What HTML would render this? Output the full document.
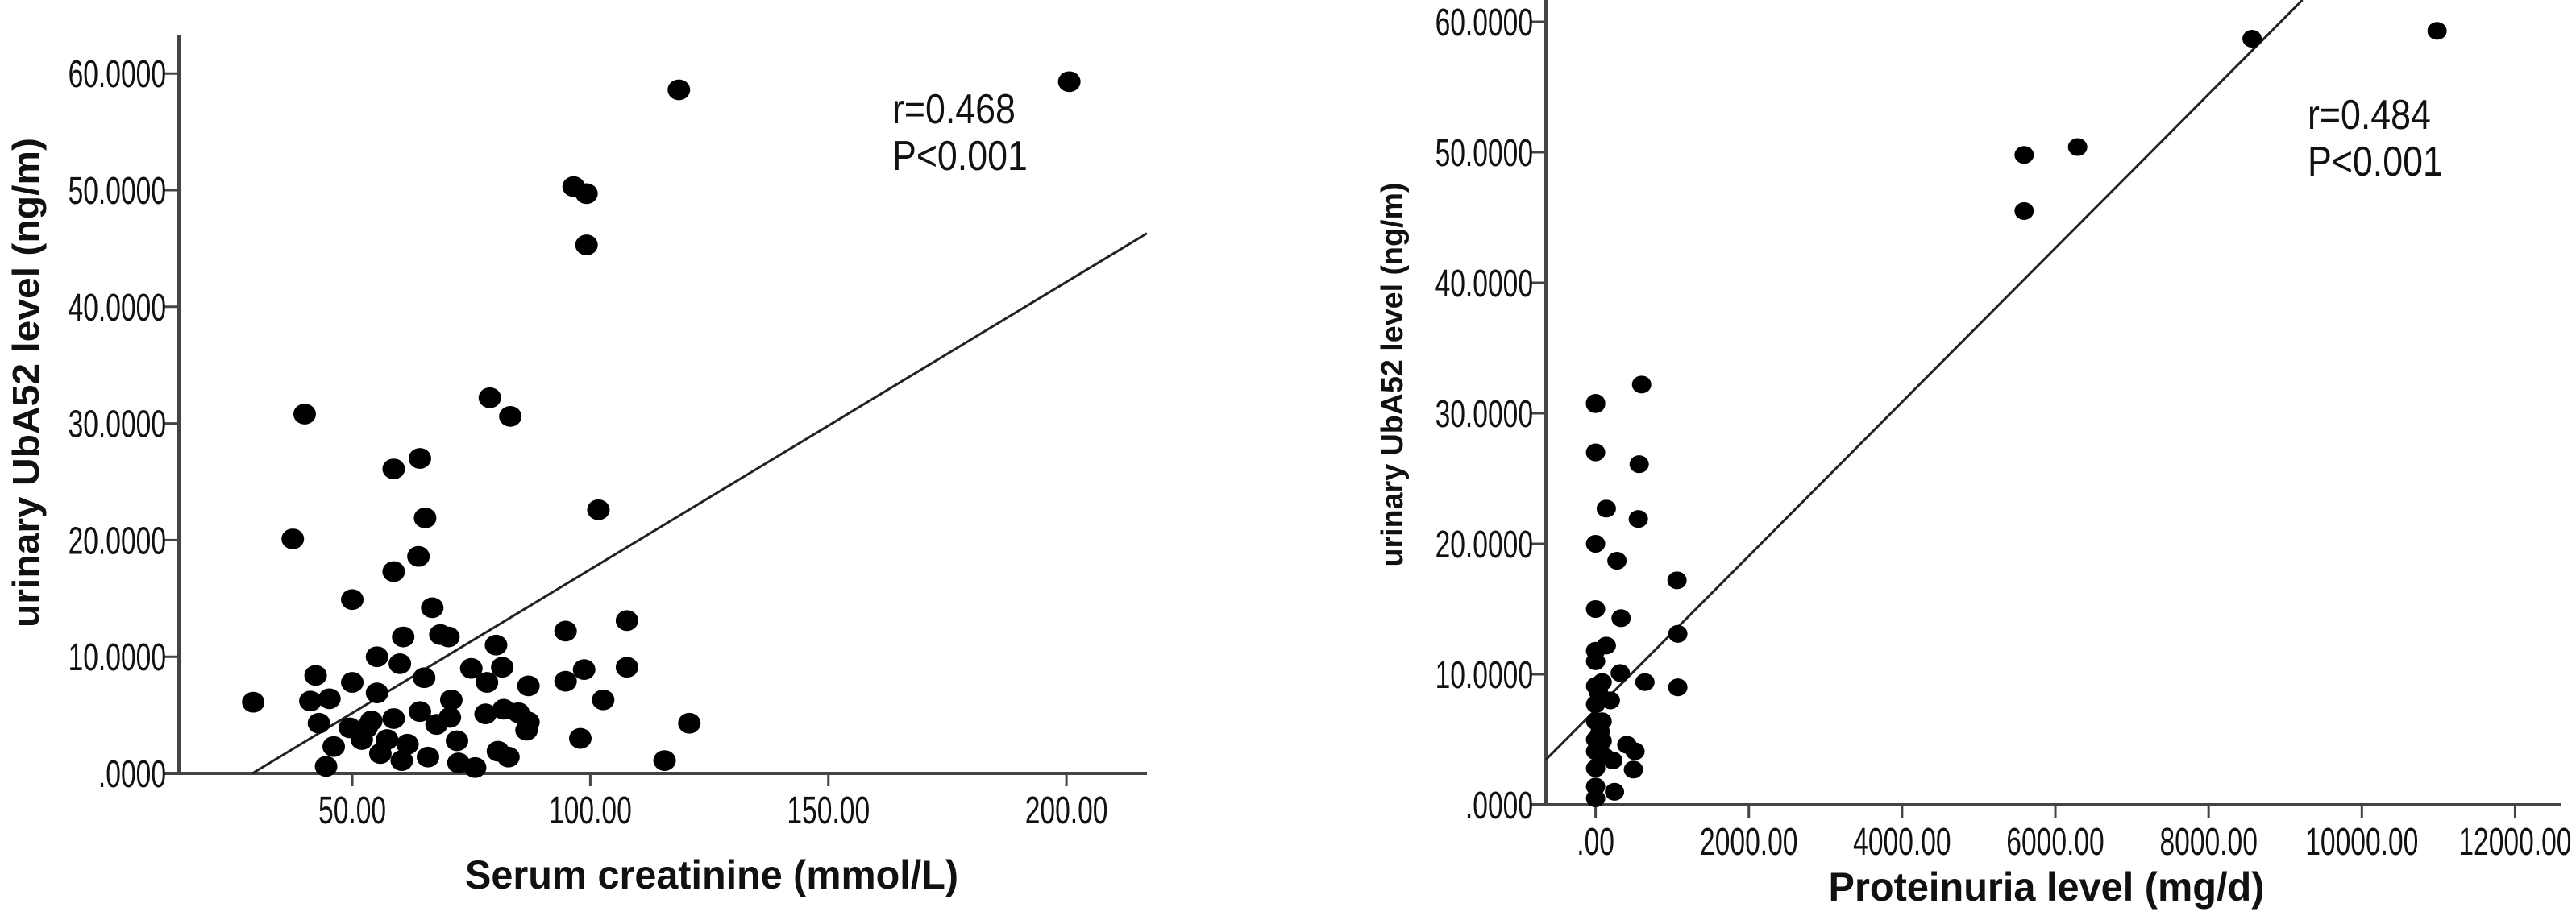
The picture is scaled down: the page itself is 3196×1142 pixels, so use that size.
<!DOCTYPE html>
<html><head><meta charset="utf-8"><style>
html,body{margin:0;padding:0;background:#fff;}
svg{display:block;}
text{font-family:"Liberation Sans",sans-serif;fill:#111;}
.b{font-weight:bold;}
</style></head><body>
<svg id="fig" width="3196" height="1142" viewBox="0 0 3196 1142" xmlns="http://www.w3.org/2000/svg">
<g id="left"></g>
<g id="right"></g>
</svg>
<script>
// Left chart data
const leftX = [29.2,40.0,37.5,42.3,41.2,43.0,45.2,46.1,44.5,50,50,49.5,53,55.2,55.2,58.7,58.7,60,60.7,58.7,55.9,57.3,60.4,61.6,63.9,64.2,65.3,66.8,65.1,64.2,65.9,68.5,70.2,67.7,70.8,72,72.3,75.8,75,78.9,83.2,78.3,78,80.2,81.5,80.6,82.8,81.8,84.9,87,86.6,94.8,94.8,96.5,99.2,99.2,98.7,97.9,101.7,102.7,107.7,107.7,115.6,120.8,118.6,200.6,70.5,87,52,54];
const leftY = [6.1,30.8,20.1,8.4,6.2,4.3,6.4,2.3,0.6,14.9,7.8,3.9,3.9,6.9,10.0,17.3,26.1,9.4,11.7,4.7,1.7,2.9,1.1,2.5,18.6,27.0,21.9,14.2,8.2,5.3,1.4,11.9,11.7,4.2,6.3,2.8,0.9,0.5,9.0,32.2,30.6,7.8,5.1,11.0,9.1,1.9,1.4,5.5,5.2,7.5,3.7,12.2,7.9,50.3,49.7,45.3,8.9,3.0,22.6,6.3,13.1,9.1,1.1,4.3,58.6,59.3,4.8,4.4,2.9,4.5];
const leftXTicks = [50,100,150,200];
const leftXTickLabels = ["50.00","100.00","150.00","200.00"];
const leftYTicks = [0,10,20,30,40,50,60];
const leftYTickLabels = [".0000","10.0000","20.0000","30.0000","40.0000","50.0000","60.0000"];
const leftFit = [0.2464,-7.15];
// Right chart data
const rightX = [8567,10982,5593,6291,5593,601,0,0,0,569,140,558,0,279,1063,0,333,1073,140,0,0,0,86,322,644,1073,193,0,0,0,86,408,515,225,494,247,0,0,0,0,86,118,40,60];
const rightY = [58.7,59.3,49.8,50.4,45.5,32.2,30.8,30.7,27.0,26.1,22.7,21.9,20.0,18.7,17.2,15.0,14.3,13.1,12.2,11.8,11.0,9.1,9.4,10.1,9.4,9.0,8.0,7.7,6.4,5.0,4.9,4.6,4.1,3.4,2.7,1.0,4.1,2.8,1.4,0.5,6.4,3.7,8.6,5.6];
const rightXTicks = [0,2000,4000,6000,8000,10000,12000];
const rightXTickLabels = [".00","2000.00","4000.00","6000.00","8000.00","10000.00","12000.00"];
const rightYTicks = [0,10,20,30,40,50,60];
const rightYTickLabels = [".0000","10.0000","20.0000","30.0000","40.0000","50.0000","60.0000"];
const rightFit = [0.005896,7.28];

const NS="http://www.w3.org/2000/svg";
function mk(parent,tag,attrs,txt){const e=document.createElementNS(NS,tag);for(const k in attrs)e.setAttribute(k,attrs[k]);if(txt!=null)e.textContent=txt;parent.appendChild(e);return e;}

function draw(g,cfg){
  const sx=v=>cfg.x0+v*cfg.kx, sy=v=>cfg.y0-v*cfg.ky;
  let a=mk(g,'line',{x1:cfg.ax,y1:cfg.top,x2:cfg.ax,y2:cfg.y0,stroke:'#444','stroke-width':4});
  
  
  a=mk(g,'line',{x1:cfg.ax-20,y1:cfg.y0,x2:cfg.right,y2:cfg.y0,stroke:'#444','stroke-width':4});
  
  
  cfg.yt.forEach((v,i)=>{
    const l=mk(g,'line',{x1:cfg.ax-20,y1:sy(v),x2:cfg.ax,y2:sy(v),stroke:'#444','stroke-width':3});
    
    
    const t=mk(g,'text',{x:0,y:0,'font-size':48,'text-anchor':'end',transform:`translate(${cfg.ax-16},${sy(v)+17}) scale(0.7,1)`},cfg.ytl[i]);
    
    
  });
  cfg.xt.forEach((v,i)=>{
    const l=mk(g,'line',{x1:sx(v),y1:cfg.y0,x2:sx(v),y2:cfg.y0+16,stroke:'#444','stroke-width':3});
    
    
    const t=mk(g,'text',{x:0,y:0,'font-size':48,'text-anchor':'middle',transform:`translate(${sx(v)},${cfg.y0+62}) scale(0.7,1)`},cfg.xtl[i]);
    
    
  });
  const xa=(cfg.ax-cfg.x0)/cfg.kx, xb=(cfg.right-cfg.x0)/cfg.kx;
  let x1=xa,y1=cfg.fit[0]*x1+cfg.fit[1];
  if(y1<0){x1=-cfg.fit[1]/cfg.fit[0];y1=0;}
  let x2=xb,y2=cfg.fit[0]*x2+cfg.fit[1];
  const ymax=(cfg.y0-cfg.top)/cfg.ky;
  if(y2>ymax){y2=ymax;x2=(ymax-cfg.fit[1])/cfg.fit[0];}
  const fl=mk(g,'line',{x1:sx(x1),y1:sy(y1),x2:sx(x2),y2:sy(y2),stroke:'#222','stroke-width':3});
  
  
  cfg.xs.forEach((v,i)=>{
    const c=mk(g,'ellipse',{cx:sx(v),cy:sy(cfg.ys[i]),rx:cfg.r,ry:cfg.r*0.92,fill:'#000'});
    
    
  });
  let t=mk(g,'text',{x:0,y:0,'font-size':52,transform:`translate(${cfg.rx},${cfg.ry}) scale(0.86,1)`},cfg.rtxt);
  
  
  t=mk(g,'text',{x:0,y:0,'font-size':52,transform:`translate(${cfg.rx},${cfg.ry+58}) scale(0.86,1)`},'P<0.001');
  
  
  t=mk(g,'text',{x:cfg.xlx,y:cfg.xly,'font-size':50,'text-anchor':'middle','class':'b',textLength:cfg.xlw,lengthAdjust:'spacingAndGlyphs'},cfg.xl);
  
  
  t=mk(g,'text',{x:0,y:0,'font-size':cfg.ylf,'text-anchor':'middle','class':'b',textLength:cfg.ylw,lengthAdjust:'spacingAndGlyphs',transform:`translate(${cfg.ylx},${cfg.yly}) rotate(-90)`},'urinary UbA52 level (ng/m)');
  
  
}
draw(document.getElementById('left'),{x0:141.7,kx:5.907,y0:960,ky:14.48,ax:222,top:44,right:1423,
  xs:leftX,ys:leftY,xt:leftXTicks,xtl:leftXTickLabels,yt:leftYTicks,ytl:leftYTickLabels,fit:leftFit,r:14,
  rx:1107,ry:153,rtxt:'r=0.468',xl:'Serum creatinine (mmol/L)',xlx:883,xly:1103,xlw:612,
  ylx:48,yly:475,ylw:608,ylf:46});
draw(document.getElementById('right'),{x0:1979.6,kx:0.09507,y0:999,ky:16.2,ax:1918,top:0,right:3177,
  xs:rightX,ys:rightY,xt:rightXTicks,xtl:rightXTickLabels,yt:rightYTicks,ytl:rightYTickLabels,fit:rightFit,r:12,
  rx:2863,ry:160,rtxt:'r=0.484',xl:'Proteinuria level (mg/d)',xlx:2539,xly:1118,xlw:541,
  ylx:1740,yly:465,ylw:477,ylf:38});
</script>
</body></html>
